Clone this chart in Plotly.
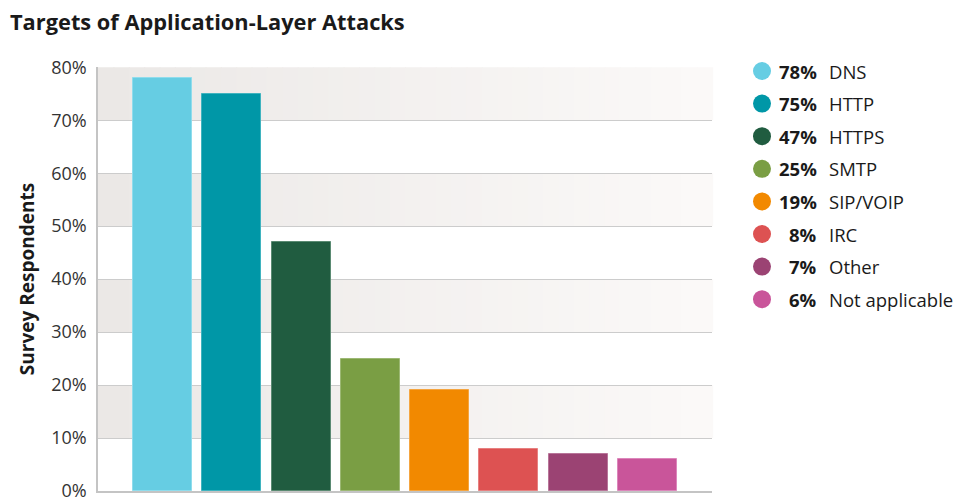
import plotly.graph_objects as go

categories = ["DNS", "HTTP", "HTTPS", "SMTP", "SIP/VOIP", "IRC", "Other", "Not applicable"]
values = [78, 75, 47, 25, 19, 8, 7, 6]
colors = ["#66cde3", "#0097a7", "#205c40", "#7a9e44", "#f28900", "#dd5252", "#9b4373", "#c9559a"]
borders = ["#8fdcec", "#3fb3bf", "#5a8a72", "#9cb874", "#f5a540", "#e78080", "#b87599", "#dc86bb"]
y_ticks = [0, 10, 20, 30, 40, 50, 60, 70, 80]
y_ticklabels = [f"{t}%" for t in y_ticks]

W, H = 955, 502
L, R, T, B = 98, 712, 67, 491

fig = go.Figure()
fig.add_trace(go.Bar(
    x=list(range(len(categories))), y=values,
    marker=dict(color=colors, line=dict(color=borders, width=1)),
    width=0.853, showlegend=False, hoverinfo="skip",
))

shapes = []
# gradient bands
N = 40
c0 = (235, 232, 230)
c1 = (251, 249, 248)
for band_lo in [10, 30, 50, 70]:
    for i in range(N):
        f = i / (N - 1)
        c = tuple(round(c0[k] + (c1[k] - c0[k]) * f) for k in range(3))
        shapes.append(dict(type="rect", xref="x domain", yref="y",
                           x0=i / N, x1=(i + 1) / N + 0.002, y0=band_lo, y1=band_lo + 10,
                           fillcolor=f"rgb{c}", line=dict(width=0), layer="below"))

# legend
annotations = []
pw, ph = R - L, B - T
def px(x):
    return (x - L) / pw
def py(y):
    return (B - y) / ph
for i, (cat, v, col) in enumerate(zip(categories, values, colors)):
    yc = 71 + 32.6 * i
    shapes.append(dict(type="circle", xref="paper", yref="paper",
                       xsizemode="pixel", ysizemode="pixel",
                       xanchor=px(762), yanchor=py(yc),
                       x0=-9, x1=9, y0=-9, y1=9,
                       fillcolor=col, line=dict(width=0)))
    annotations.append(dict(xref="paper", yref="paper", x=px(819), y=py(yc),
                            xanchor="right", yanchor="middle", showarrow=False,
                            text=f"<b>{v}%</b>",
                            font=dict(family="Open Sans", size=18.5, color="#1a1a1a")))
    annotations.append(dict(xref="paper", yref="paper", x=px(827), y=py(yc),
                            xanchor="left", yanchor="middle", showarrow=False,
                            text=cat,
                            font=dict(family="Open Sans", size=18.5, color="#1a1a1a")))

fig.update_layout(
    width=W, height=H,
    margin=dict(l=L, r=W - R, t=T, b=H - B, pad=0),
    paper_bgcolor="white", plot_bgcolor="white",
    title=dict(text="<b>Targets of Application-Layer Attacks</b>", x=10 / W, xanchor="left",
               y=1 - 22 / H, yanchor="middle", automargin=False,
               font=dict(family="Open Sans", size=21.8, color="#1a1a1a")),
    xaxis=dict(range=[-0.935, 7.935], showticklabels=False, showgrid=False,
               zeroline=False, showline=True, linecolor="#c4c4c4", linewidth=1.5,
               fixedrange=True, automargin=False),
    yaxis=dict(range=[0, 80.05], tickvals=y_ticks, ticktext=y_ticklabels,
               showgrid=True, gridcolor="#cccccc", gridwidth=1, automargin=False,
               zeroline=False, showline=True, linecolor="#c4c4c4", linewidth=1.5,
               ticks="", ticklabelstandoff=6, ticklabeloverflow="allow",
               tickfont=dict(family="Open Sans", size=18, color="#333333"),
               title=dict(text="<b>Survey Respondents</b>", standoff=12,
                          font=dict(family="Open Sans", size=19, color="#1a1a1a"))),
    shapes=shapes, annotations=annotations,
    bargap=0,
)

fig.write_html("out.html")
